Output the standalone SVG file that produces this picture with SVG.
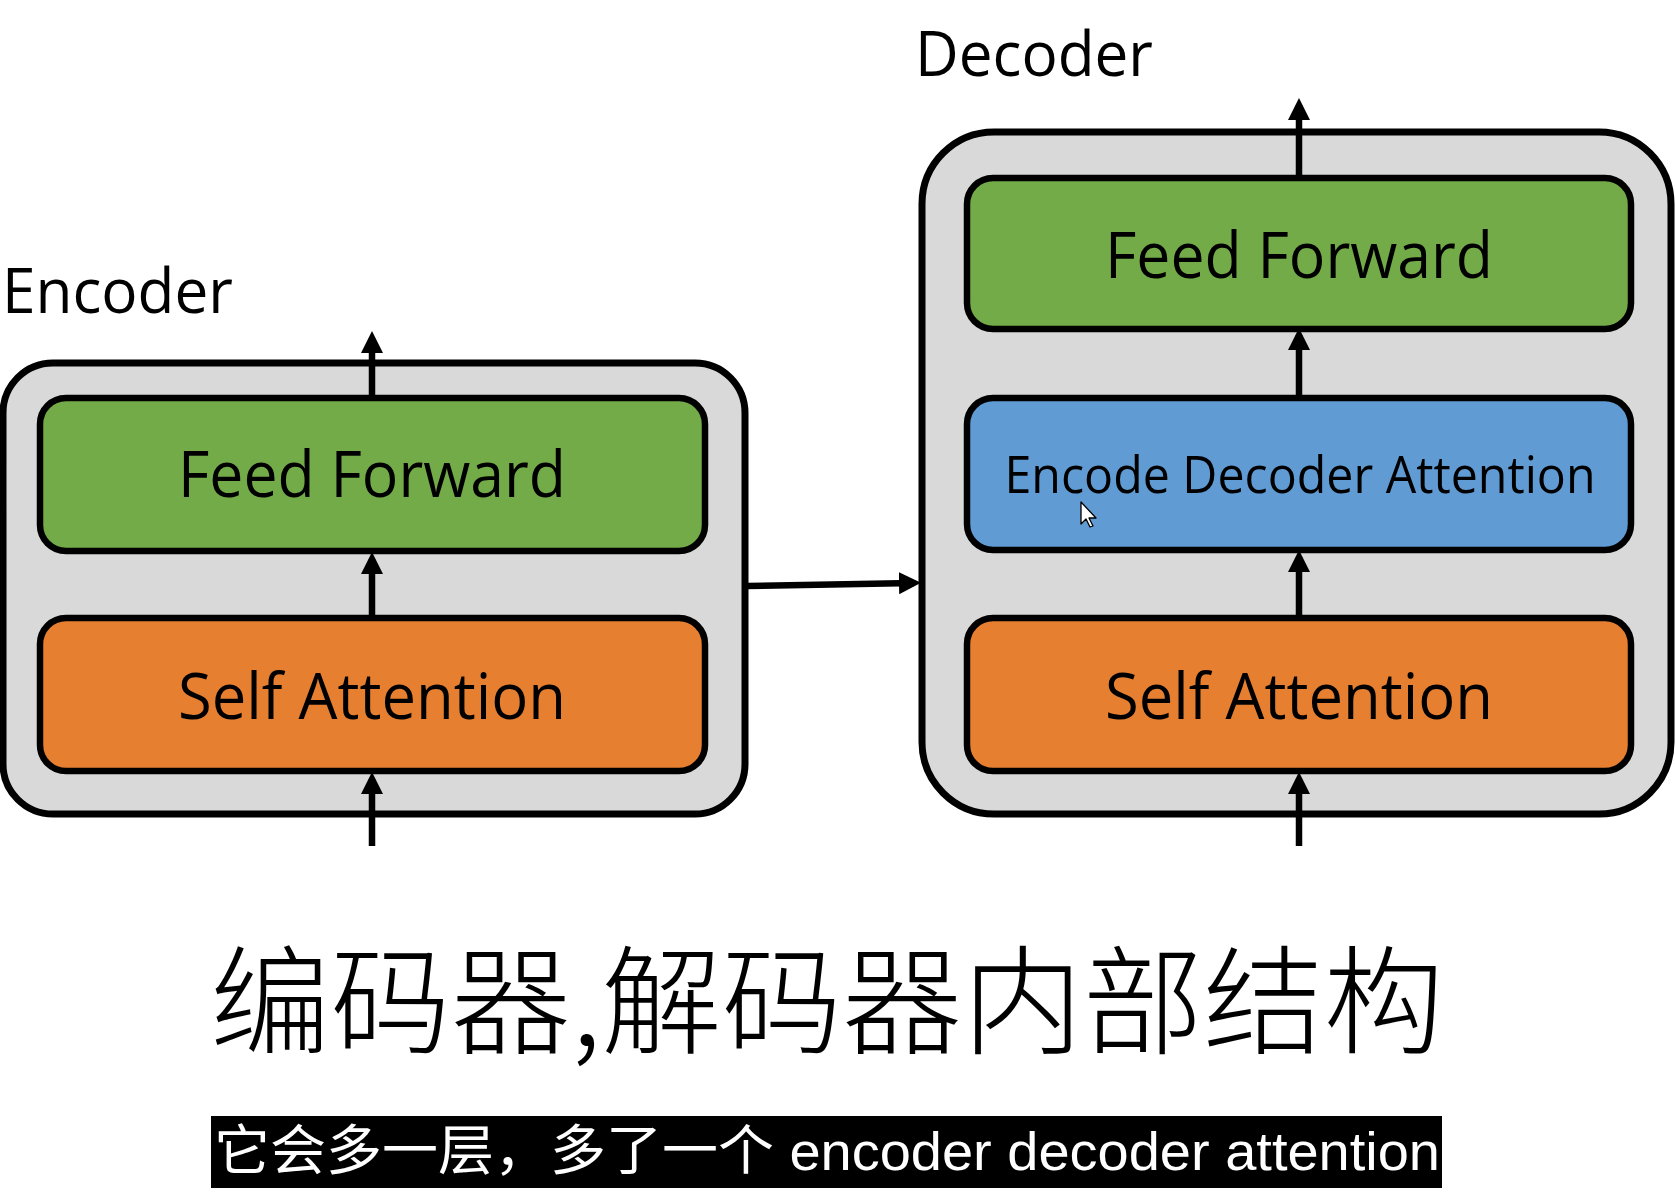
<svg xmlns="http://www.w3.org/2000/svg" width="1675" height="1197" viewBox="0 0 1675 1197">
  <defs>
    <style>
      .outer { fill: #d9d9d9; stroke: #000; stroke-width: 7; }
      .block { stroke: #000; stroke-width: 6.5; }
      .ff { fill: #73ab48; }
      .sa { fill: #e77f31; }
      .eda { fill: #609bd3; }
      .lbl { font-family: "Open Sans", "Noto Sans", sans-serif; fill: #000; text-anchor: middle; }
      .head { font-family: "Open Sans", "Noto Sans", sans-serif; fill: #000; font-size: 62px; }
      .link { stroke: #000; stroke-width: 6.5; fill: none; marker-end: url(#tip); }
      .title { font-family: "Noto Sans CJK SC", sans-serif; font-weight: 300; font-size: 118px; fill: #000; }
      .sub { font-family: "Liberation Sans", "Noto Sans CJK SC", sans-serif; font-size: 54px; fill: #fff; }
    </style>
    <marker id="tip" viewBox="0 0 22 22" markerUnits="userSpaceOnUse" markerWidth="22" markerHeight="22" refX="15" refY="11" orient="auto">
      <path d="M0,0 L22,11 L0,22 z" fill="#000"/>
    </marker>
  </defs>

  <!-- Encoder stack -->
  <g id="encoder">
    <text class="head" x="2" y="313" textLength="231" lengthAdjust="spacingAndGlyphs">Encoder</text>
    <rect class="outer" x="3" y="363" width="742" height="451" rx="50"/>
  </g>
  <g id="enc-feed-forward">
    <rect class="block ff" x="40" y="398" width="665" height="153" rx="26"/>
    <text class="lbl" x="372" y="497" font-size="64" textLength="388" lengthAdjust="spacingAndGlyphs">Feed Forward</text>
  </g>
  <g id="enc-self-attention">
    <rect class="block sa" x="40" y="618" width="665" height="153" rx="26"/>
    <text class="lbl" x="372" y="719" font-size="64" textLength="388" lengthAdjust="spacingAndGlyphs">Self Attention</text>
  </g>

  <!-- Decoder stack -->
  <g id="decoder">
    <text class="head" x="915" y="76" textLength="238" lengthAdjust="spacingAndGlyphs">Decoder</text>
    <rect class="outer" x="922" y="132" width="749" height="682" rx="72"/>
  </g>
  <g id="dec-feed-forward">
    <rect class="block ff" x="967" y="178" width="664" height="151" rx="26"/>
    <text class="lbl" x="1299" y="278" font-size="64" textLength="388" lengthAdjust="spacingAndGlyphs">Feed Forward</text>
  </g>
  <g id="dec-enc-dec-attention">
    <rect class="block eda" x="967" y="398" width="664" height="152" rx="26"/>
    <text class="lbl" x="1300" y="493" font-size="52" textLength="591" lengthAdjust="spacingAndGlyphs">Encode Decoder Attention</text>
  </g>
  <g id="dec-self-attention">
    <rect class="block sa" x="967" y="618" width="664" height="153" rx="26"/>
    <text class="lbl" x="1299" y="719" font-size="64" textLength="388" lengthAdjust="spacingAndGlyphs">Self Attention</text>
  </g>

  <!-- Connectors -->
  <g id="connectors">
    <line class="link" x1="372" y1="846" x2="372" y2="779"/>
    <line class="link" x1="372" y1="618" x2="372" y2="559"/>
    <line class="link" x1="372" y1="398" x2="372" y2="338"/>
    <line class="link" x1="747" y1="586" x2="914" y2="583"/>
    <line class="link" x1="1299" y1="846" x2="1299" y2="779"/>
    <line class="link" x1="1299" y1="618" x2="1299" y2="557"/>
    <line class="link" x1="1299" y1="398" x2="1299" y2="335"/>
    <line class="link" x1="1299" y1="178" x2="1299" y2="105"/>
  </g>

  <!-- Mouse pointer -->
  <polygon points="1081,502 1081,524 1086,519 1090,527 1093,526 1089,518 1096,518" fill="#fff" stroke="#000" stroke-width="1.3" stroke-linejoin="round"/>

  <!-- Caption -->
  <text class="title" x="210" y="1045" textLength="1234" lengthAdjust="spacingAndGlyphs">编码器,解码器内部结构</text>
  <rect x="211" y="1116" width="1231" height="72" fill="#000"/>
  <text class="sub" x="214" y="1170" textLength="1226" lengthAdjust="spacingAndGlyphs">它会多一层，多了一个 encoder decoder attention</text>
</svg>
